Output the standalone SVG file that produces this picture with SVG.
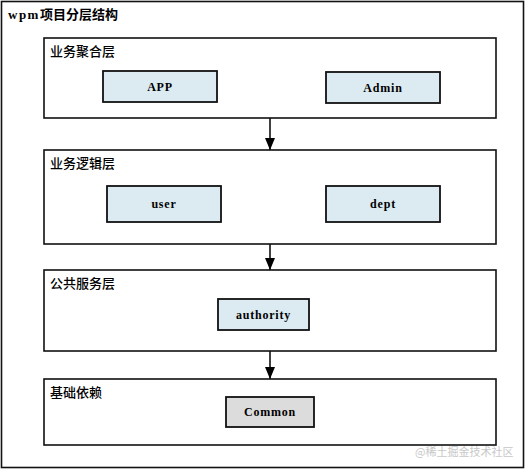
<svg xmlns="http://www.w3.org/2000/svg" width="526" height="470" viewBox="0 0 526 470">
<defs>
<marker id="arr" viewBox="0 0 12 10" refX="12" refY="5" markerWidth="12" markerHeight="10" markerUnits="userSpaceOnUse" orient="auto">
<path d="M0,0 L12,5 L0,10 Z" fill="#000"/>
</marker>
</defs>
<style>
.frame{fill:#fff;stroke:#111;stroke-width:1.6}
.layer{fill:#fff;stroke:#111;stroke-width:1.6}
.box{fill:#dcebf2;stroke:#111;stroke-width:1.8}
.gray{fill:#dcdcdc;stroke:#111;stroke-width:1.8}
.ttl{font-family:"Liberation Serif","Noto Sans CJK SC",serif;font-size:13px;font-weight:bold;fill:#000}
.lt{font-family:"Noto Sans CJK SC",sans-serif;font-size:13px;font-weight:500;fill:#000}
.bt{font-family:"Liberation Serif",serif;font-size:12px;font-weight:bold;fill:#000;text-anchor:middle;letter-spacing:0.8px}
.wm{font-family:"Noto Sans CJK SC",sans-serif;font-size:11px;fill:#c8c8c8}
.con{stroke:#111;stroke-width:1.6;fill:none}
</style>
<rect x="0" y="0" width="526" height="470" fill="#fff"/>
<g id="outer">
<rect class="frame" x="1.5" y="1.5" width="522" height="466"/>
<text class="ttl" x="8" y="19"><tspan letter-spacing="1.5">wpm</tspan>项目分层结构</text>
</g>
<g id="layer1">
<rect class="layer" x="44" y="38" width="452" height="80"/>
<text class="lt" x="50" y="56">业务聚合层</text>
</g>
<g id="app">
<rect class="box" x="103" y="71" width="114" height="31"/>
<text class="bt" x="160" y="90.5">APP</text>
</g>
<g id="admin">
<rect class="box" x="326" y="72" width="114" height="31"/>
<text class="bt" x="383" y="91.5">Admin</text>
</g>
<g id="layer2">
<rect class="layer" x="44" y="150" width="452" height="94"/>
<text class="lt" x="50" y="168">业务逻辑层</text>
</g>
<g id="user">
<rect class="box" x="107" y="186" width="114" height="36"/>
<text class="bt" x="164" y="208">user</text>
</g>
<g id="dept">
<rect class="box" x="326" y="186" width="114" height="36"/>
<text class="bt" x="383" y="208">dept</text>
</g>
<g id="layer3">
<rect class="layer" x="44" y="270" width="452" height="81"/>
<text class="lt" x="50" y="288">公共服务层</text>
</g>
<g id="authority">
<rect class="box" x="218" y="299" width="91" height="31"/>
<text class="bt" x="263.5" y="318.5">authority</text>
</g>
<g id="layer4">
<rect class="layer" x="44" y="379" width="452" height="66"/>
<text class="lt" x="50" y="397">基础依赖</text>
</g>
<g id="common">
<rect class="gray" x="226" y="397" width="88" height="30"/>
<text class="bt" x="270" y="416">Common</text>
</g>
<g id="connectors">
<line class="con" x1="270" y1="118" x2="270" y2="150" marker-end="url(#arr)"/>
<line class="con" x1="270" y1="244" x2="270" y2="270" marker-end="url(#arr)"/>
<line class="con" x1="270" y1="351" x2="270" y2="379" marker-end="url(#arr)"/>
</g>
<text class="wm" x="415" y="456">@稀土掘金技术社区</text>
</svg>
